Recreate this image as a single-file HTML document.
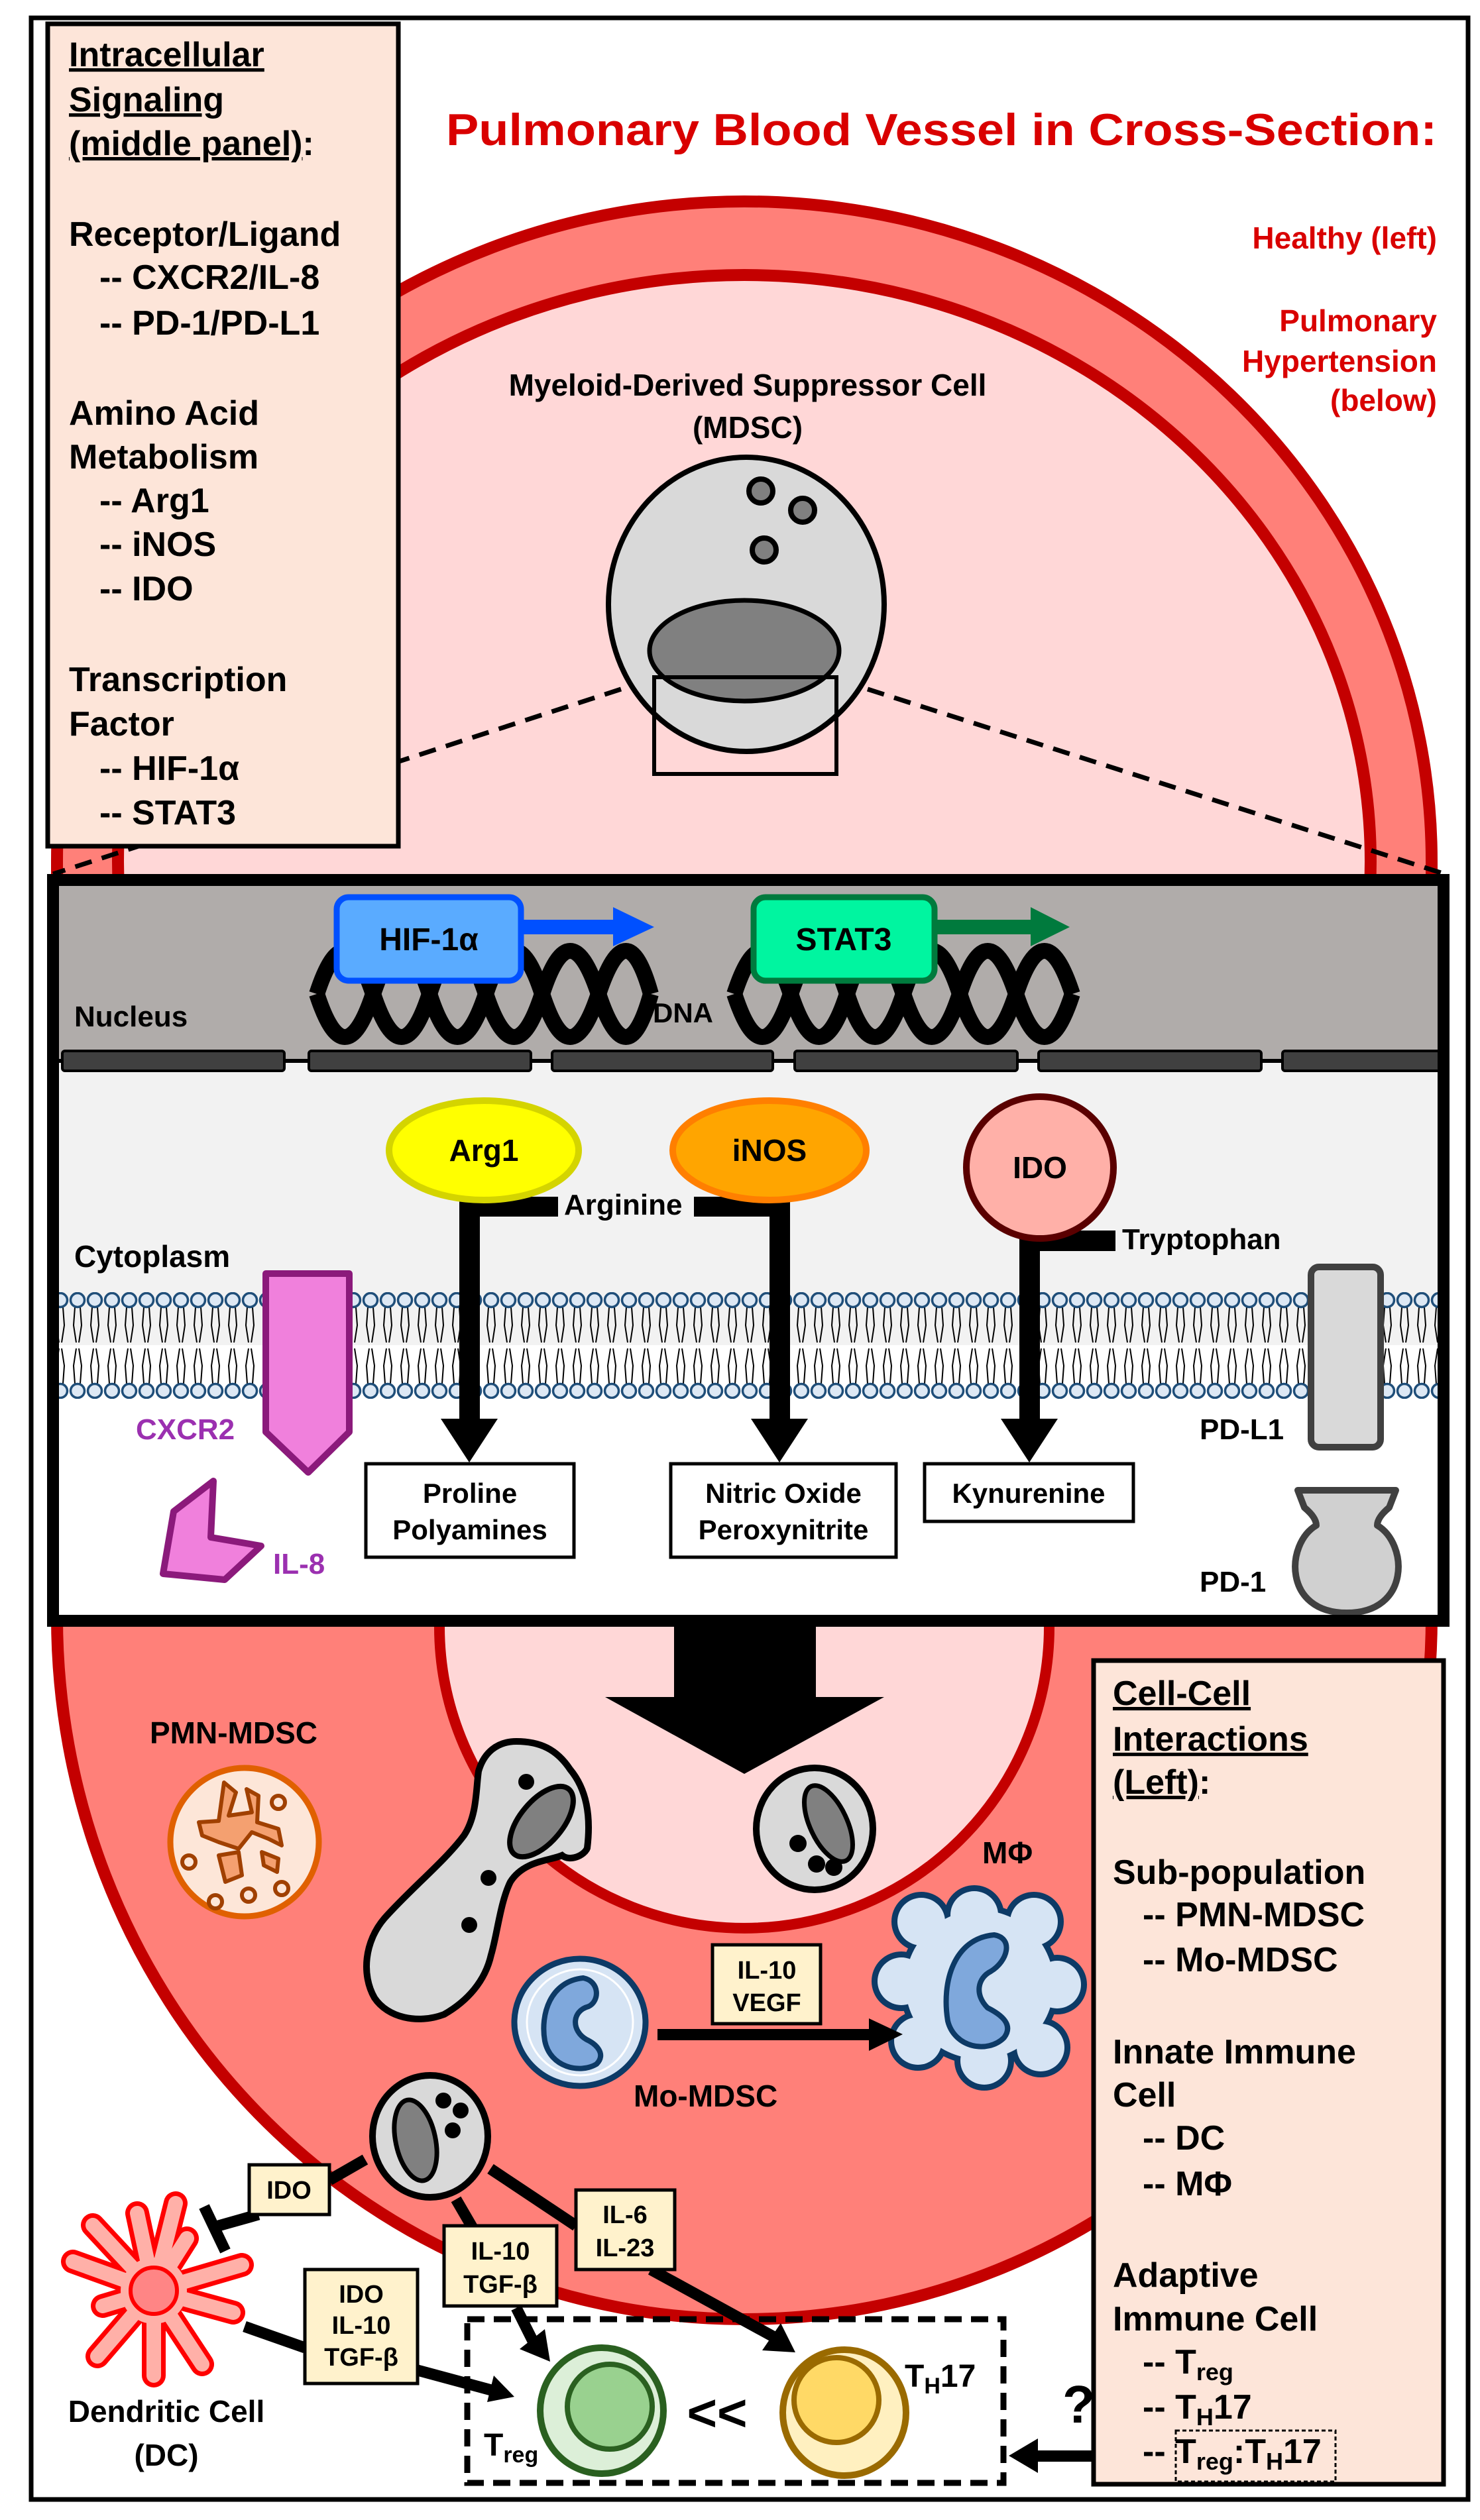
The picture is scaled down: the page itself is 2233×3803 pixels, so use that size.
<!DOCTYPE html>
<html><head><meta charset="utf-8"><style>
html,body{margin:0;padding:0;background:#fff;}
svg{display:block;}
text{font-family:"Liberation Sans",Arial,sans-serif;font-weight:bold;}
</style></head><body>
<svg width="2233" height="3803" viewBox="0 0 2233 3803" xmlns="http://www.w3.org/2000/svg">
<defs>
<pattern id="mem" x="0" y="1950" width="26" height="161" patternUnits="userSpaceOnUse">
<g stroke="#000" stroke-width="2" fill="none">
<polyline points="9,23 7,50 11,76"/><polyline points="17,23 19,50 15,76"/>
<polyline points="9,138 7,111 11,85"/><polyline points="17,138 19,111 15,85"/>
</g>
<circle cx="13" cy="12" r="10.5" fill="#dde8f4" stroke="#1f4e79" stroke-width="3.5"/>
<circle cx="13" cy="149" r="10.5" fill="#dde8f4" stroke="#1f4e79" stroke-width="3.5"/>
</pattern>
</defs>
<rect x="0" y="0" width="2233" height="3803" fill="#fff"/>

<!-- vessel -->
<path d="M86,1300 A1037,996 0 0 1 2160,1300 L2160,2440 A1037,1060 0 0 1 86,2440 Z" fill="#ff8079" stroke="#c40000" stroke-width="18"/>
<ellipse cx="1123" cy="1300" rx="945" ry="885" fill="#ffd7d7" stroke="#c40000" stroke-width="18"/>
<path d="M663,2300 L663,2455 A460,455 0 0 0 1583,2455 L1583,2300 Z" fill="#ffd7d7" stroke="#c40000" stroke-width="16"/>

<!-- title -->
<text x="673" y="219" font-size="68" fill="#d90000" textLength="1495" lengthAdjust="spacingAndGlyphs">Pulmonary Blood Vessel in Cross-Section:</text>
<g font-size="46" fill="#d90000" text-anchor="end">
<text x="2168" y="375">Healthy (left)</text>
<text x="2168" y="500">Pulmonary</text>
<text x="2168" y="561">Hypertension</text>
<text x="2168" y="620">(below)</text>
</g>

<!-- top MDSC -->
<g font-size="46" fill="#000" text-anchor="middle">
<text x="1128" y="597">Myeloid-Derived Suppressor Cell</text>
<text x="1128" y="661">(MDSC)</text>
</g>
<ellipse cx="1126" cy="912" rx="208" ry="222" fill="#d9d9d9" stroke="#000" stroke-width="8"/>
<ellipse cx="1123" cy="982" rx="143" ry="76" fill="#808080" stroke="#000" stroke-width="7"/>
<circle cx="1148" cy="741" r="18" fill="#808080" stroke="#000" stroke-width="8"/>
<circle cx="1211" cy="770" r="18" fill="#808080" stroke="#000" stroke-width="8"/>
<circle cx="1153" cy="830" r="18" fill="#808080" stroke="#000" stroke-width="8"/>
<rect x="987" y="1022" width="275" height="146" fill="none" stroke="#000" stroke-width="6"/>
<g stroke="#000" stroke-width="7" stroke-dasharray="26 16">
<line x1="937" y1="1040" x2="80" y2="1319"/>
<line x1="1309" y1="1040" x2="2180" y2="1319"/>
</g>

<!-- left panel -->
<rect x="72" y="36" width="529" height="1241" fill="#fde5d9" stroke="#000" stroke-width="7"/>
<g font-size="52" fill="#000">
<text x="104" y="100" text-decoration="underline">Intracellular</text>
<text x="104" y="168" text-decoration="underline">Signaling</text>
<text x="104" y="234"><tspan text-decoration="underline">(middle panel)</tspan>:</text>
<text x="104" y="371">Receptor/Ligand</text>
<text x="150" y="436">-- CXCR2/IL-8</text>
<text x="150" y="505">-- PD-1/PD-L1</text>
<text x="104" y="641">Amino Acid</text>
<text x="104" y="707">Metabolism</text>
<text x="150" y="773">-- Arg1</text>
<text x="150" y="839">-- iNOS</text>
<text x="150" y="906">-- IDO</text>
<text x="104" y="1043">Transcription</text>
<text x="104" y="1110">Factor</text>
<text x="150" y="1177">-- HIF-1α</text>
<text x="150" y="1244">-- STAT3</text>
</g>

<!-- middle panel -->
<rect x="80" y="1328" width="2098" height="1118" fill="#f2f2f2"/>
<rect x="80" y="1328" width="2098" height="270" fill="#b0acaa"/>
<rect x="80" y="2030" width="2098" height="416" fill="#fff"/>
<rect x="80" y="1950" width="2098" height="161" fill="url(#mem)"/>
<line x1="80" y1="1601" x2="2178" y2="1601" stroke="#000" stroke-width="6"/>
<g fill="#404040" stroke="#000" stroke-width="4">
<rect x="94" y="1586" width="335" height="30" rx="4"/>
<rect x="466" y="1586" width="335" height="30" rx="4"/>
<rect x="833" y="1586" width="333" height="30" rx="4"/>
<rect x="1199" y="1586" width="336" height="30" rx="4"/>
<rect x="1567" y="1586" width="336" height="30" rx="4"/>
<rect x="1935" y="1586" width="240" height="30" rx="4"/>
</g>
<text x="112" y="1549" font-size="44">Nucleus</text>
<text x="112" y="1912" font-size="46">Cytoplasm</text>
<!-- DNA -->
<g fill="none" stroke="#000" stroke-width="24" stroke-linecap="butt">
<path d="M478,1500 Q520,1370 563,1500 T648,1500 T733,1500 T818,1500 T903,1500 T982,1500"/>
<path d="M478,1500 Q520,1630 563,1500 T648,1500 T733,1500 T818,1500 T903,1500 T982,1500"/>
<path d="M1108,1500 Q1150,1370 1193,1500 T1278,1500 T1363,1500 T1448,1500 T1533,1500 T1618,1500"/>
<path d="M1108,1500 Q1150,1630 1193,1500 T1278,1500 T1363,1500 T1448,1500 T1533,1500 T1618,1500"/>
</g>
<text x="985" y="1543" font-size="42">DNA</text>
<!-- HIF -->
<rect x="785" y="1388" width="140" height="22" fill="#0050ff"/>
<polygon points="925,1369 987,1399 925,1428" fill="#0050ff"/>
<rect x="508" y="1354" width="278" height="126" rx="18" fill="#5aabff" stroke="#0050ff" stroke-width="9"/>
<text x="647" y="1434" font-size="48" text-anchor="middle">HIF-1α</text>
<rect x="1410" y="1388" width="145" height="22" fill="#007a3d"/>
<polygon points="1555,1369 1614,1399 1555,1428" fill="#007a3d"/>
<rect x="1137" y="1354" width="273" height="126" rx="18" fill="#00f5a0" stroke="#007a3d" stroke-width="9"/>
<text x="1273" y="1434" font-size="48" text-anchor="middle">STAT3</text>

<!-- enzymes -->
<rect x="693" y="1810" width="31" height="335" fill="#000"/>
<polygon points="665,2141 751,2141 708,2207" fill="#000"/>
<rect x="708" y="1806" width="134" height="30" fill="#000"/>
<ellipse cx="730" cy="1736" rx="143" ry="75" fill="#ffff00" stroke="#d4d400" stroke-width="10"/>
<text x="730" y="1752" font-size="46" text-anchor="middle">Arg1</text>
<rect x="1161" y="1810" width="31" height="335" fill="#000"/>
<polygon points="1133,2141 1219,2141 1176,2207" fill="#000"/>
<rect x="1047" y="1806" width="140" height="30" fill="#000"/>
<ellipse cx="1161" cy="1736" rx="146" ry="75" fill="#ffa500" stroke="#ff7f00" stroke-width="10"/>
<text x="1161" y="1752" font-size="46" text-anchor="middle">iNOS</text>
<text x="851" y="1833" font-size="44">Arginine</text>
<rect x="1538" y="1865" width="31" height="280" fill="#000"/>
<polygon points="1510,2141 1596,2141 1553,2207" fill="#000"/>
<rect x="1553" y="1857" width="130" height="31" fill="#000"/>
<ellipse cx="1569" cy="1762" rx="111" ry="107" fill="#ffb0a8" stroke="#5a0000" stroke-width="10"/>
<text x="1569" y="1778" font-size="46" text-anchor="middle">IDO</text>
<text x="1693" y="1885" font-size="44">Tryptophan</text>
<g fill="#fff" stroke="#000" stroke-width="5">
<rect x="552" y="2209" width="314" height="141"/>
<rect x="1012" y="2209" width="340" height="141"/>
<rect x="1395" y="2209" width="315" height="87"/>
</g>
<g font-size="42" text-anchor="middle">
<text x="709" y="2268">Proline</text><text x="709" y="2323">Polyamines</text>
<text x="1182" y="2268">Nitric Oxide</text><text x="1182" y="2323">Peroxynitrite</text>
<text x="1552" y="2268">Kynurenine</text>
</g>
<!-- CXCR2 / IL-8 -->
<path d="M401,1922 L527,1922 L527,2161 L465,2222 L401,2161 Z" fill="#f080dc" stroke="#8b1a7b" stroke-width="10" stroke-linejoin="round"/>
<text x="205" y="2172" font-size="44" fill="#9b30b0">CXCR2</text>
<polygon points="322,2235 262,2281 246,2375 339,2384 394,2333 318,2320" fill="#f080dc" stroke="#8b1a7b" stroke-width="10" stroke-linejoin="round"/>
<text x="412" y="2375" font-size="44" fill="#9b30b0">IL-8</text>
<!-- PD-L1 / PD-1 -->
<rect x="1978" y="1912" width="105" height="272" rx="12" fill="#d9d9d9" stroke="#404040" stroke-width="10"/>
<text x="1810" y="2172" font-size="44">PD-L1</text>
<path d="M1958,2249 L2106,2249 L2096,2275 Q2078,2290 2078,2302 C2125,2330 2128,2434 2032,2434 C1936,2434 1939,2330 1986,2302 Q1986,2290 1968,2275 Z" fill="#d0d0d0" stroke="#404040" stroke-width="10" stroke-linejoin="round"/>
<text x="1810" y="2402" font-size="44">PD-1</text>
<rect x="80" y="1328" width="2098" height="1118" fill="none" stroke="#000" stroke-width="18"/>

<!-- big arrow -->
<rect x="1017" y="2455" width="214" height="108" fill="#000"/>
<polygon points="913,2561 1334,2561 1123,2677" fill="#000"/>

<!-- PMN-MDSC -->
<text x="226" y="2631" font-size="46">PMN-MDSC</text>
<circle cx="369" cy="2780" r="112" fill="#fde6d8" stroke="#e06000" stroke-width="9"/>
<g fill="#f4a070" stroke="#a04000" stroke-width="6" stroke-linejoin="round">
<path d="M338,2690 L356,2705 L345,2740 L380,2735 L372,2700 L390,2710 L388,2750 L420,2760 L425,2785 L405,2775 L380,2765 L360,2790 L330,2780 L305,2770 L300,2750 L330,2748 Z"/>
<path d="M330,2800 L360,2795 L365,2830 L340,2840 Z"/>
<path d="M395,2795 L420,2805 L418,2825 L398,2815 Z"/>
</g>
<g fill="none" stroke="#a04000" stroke-width="6">
<circle cx="285" cy="2810" r="10"/><circle cx="420" cy="2720" r="10"/><circle cx="375" cy="2860" r="10"/><circle cx="325" cy="2870" r="10"/><circle cx="425" cy="2850" r="10"/>
</g>

<!-- migrating cell -->
<path d="M779,2628 C815,2628 840,2640 860,2670 C885,2700 892,2740 886,2789 C882,2800 860,2810 848,2800 C830,2808 790,2808 770,2840 C755,2870 750,2920 741,2950 C732,2990 705,3020 670,3040 C630,3055 585,3045 565,3015 C545,2980 550,2930 580,2895 C620,2850 670,2810 700,2770 C720,2740 718,2700 722,2673 C730,2645 750,2628 779,2628 Z" fill="#d9d9d9" stroke="#000" stroke-width="10"/>
<ellipse cx="817" cy="2749" rx="32" ry="64" transform="rotate(40 817 2749)" fill="#808080" stroke="#000" stroke-width="8"/>
<circle cx="794" cy="2689" r="12" fill="#000"/><circle cx="737" cy="2834" r="12" fill="#000"/><circle cx="708" cy="2905" r="12" fill="#000"/>

<!-- lumen cell -->
<ellipse cx="1229" cy="2760" rx="88" ry="92" fill="#d9d9d9" stroke="#000" stroke-width="10"/>
<ellipse cx="1250" cy="2752" rx="28" ry="62" transform="rotate(-25 1250 2752)" fill="#808080" stroke="#000" stroke-width="7"/>
<circle cx="1204" cy="2782" r="13" fill="#000"/><circle cx="1232" cy="2813" r="13" fill="#000"/><circle cx="1258" cy="2818" r="13" fill="#000"/>

<!-- macrophage -->
<text x="1482" y="2812" font-size="46">MΦ</text>
<g fill="none" stroke="#0d3a66" stroke-width="18">
<circle cx="1478" cy="2995" r="112"/>
<circle cx="1470" cy="2890" r="36"/><circle cx="1560" cy="2900" r="36"/><circle cx="1595" cy="2995" r="36"/><circle cx="1570" cy="3090" r="36"/><circle cx="1485" cy="3110" r="36"/><circle cx="1385" cy="3080" r="36"/><circle cx="1360" cy="2990" r="36"/><circle cx="1390" cy="2900" r="36"/>
</g>
<g fill="#d6e4f4">
<circle cx="1478" cy="2995" r="112"/>
<circle cx="1470" cy="2890" r="36"/><circle cx="1560" cy="2900" r="36"/><circle cx="1595" cy="2995" r="36"/><circle cx="1570" cy="3090" r="36"/><circle cx="1485" cy="3110" r="36"/><circle cx="1385" cy="3080" r="36"/><circle cx="1360" cy="2990" r="36"/><circle cx="1390" cy="2900" r="36"/>
</g>
<path d="M1500,2920 C1440,2925 1420,2990 1430,3050 C1440,3090 1490,3100 1515,3075 C1530,3055 1510,3040 1490,3030 C1470,3010 1475,2985 1495,2975 C1520,2960 1530,2925 1500,2920 Z" fill="#7fa8dc" stroke="#0d3a66" stroke-width="8"/>

<!-- Mo-MDSC -->
<ellipse cx="875" cy="3052" rx="99" ry="96" fill="#d6e4f4" stroke="#0d3a66" stroke-width="9"/>
<ellipse cx="875" cy="3052" rx="80" ry="80" fill="none" stroke="#fff" stroke-width="3"/>
<path d="M880,2985 C830,2990 815,3040 822,3080 C830,3120 875,3130 900,3115 C915,3100 900,3085 885,3078 C862,3065 862,3035 888,3028 C905,3020 905,2990 880,2985 Z" fill="#7fa8dc" stroke="#0d3a66" stroke-width="8"/>
<text x="956" y="3179" font-size="46">Mo-MDSC</text>
<rect x="1075" y="2935" width="163" height="119" fill="#fff2cc" stroke="#000" stroke-width="5"/>
<g font-size="38" text-anchor="middle"><text x="1157" y="2986">IL-10</text><text x="1157" y="3035">VEGF</text></g>
<rect x="992" y="3062" width="325" height="17" fill="#000"/>
<polygon points="1311,3046 1362,3070 1311,3095" fill="#000"/>

<!-- small MDSC -->
<g stroke="#000" stroke-width="17" fill="none">
<line x1="551" y1="3259" x2="497" y2="3290"/>
<line x1="390" y1="3342" x2="319" y2="3362"/>
<line x1="308" y1="3330" x2="340" y2="3397"/>
<line x1="688" y1="3319" x2="713" y2="3362"/>
<line x1="740" y1="3273" x2="869" y2="3359"/>
<line x1="779" y1="3483" x2="805" y2="3535"/>
<line x1="982" y1="3425" x2="1170" y2="3528"/>
<line x1="369" y1="3511" x2="460" y2="3543"/>
<line x1="630" y1="3577" x2="745" y2="3608"/>
</g>
<polygon points="784,3545 830,3564 822,3515" fill="#000"/>
<polygon points="1150,3547 1200,3550 1178,3506" fill="#000"/>
<polygon points="735,3625 776,3617 745,3585" fill="#000"/>
<ellipse cx="649" cy="3224" rx="87" ry="92" fill="#d9d9d9" stroke="#000" stroke-width="10"/>
<ellipse cx="627" cy="3230" rx="30" ry="62" transform="rotate(-12 627 3230)" fill="#808080" stroke="#000" stroke-width="7"/>
<circle cx="669" cy="3170" r="12" fill="#000"/><circle cx="695" cy="3185" r="12" fill="#000"/><circle cx="683" cy="3215" r="12" fill="#000"/>
<rect x="376" y="3267" width="121" height="75" fill="#fff2cc" stroke="#000" stroke-width="5"/>
<text x="436" y="3318" font-size="38" text-anchor="middle">IDO</text>
<rect x="670" y="3359" width="170" height="121" fill="#fff2cc" stroke="#000" stroke-width="5"/>
<g font-size="38" text-anchor="middle"><text x="755" y="3410">IL-10</text><text x="755" y="3460">TGF-β</text></g>
<rect x="869" y="3305" width="149" height="120" fill="#fff2cc" stroke="#000" stroke-width="5"/>
<g font-size="38" text-anchor="middle"><text x="943" y="3355">IL-6</text><text x="943" y="3405">IL-23</text></g>
<rect x="460" y="3425" width="170" height="172" fill="#fff2cc" stroke="#000" stroke-width="5"/>
<g font-size="38" text-anchor="middle"><text x="545" y="3475">IDO</text><text x="545" y="3522">IL-10</text><text x="545" y="3570">TGF-β</text></g>

<!-- DC -->
<g stroke="#ff0000" stroke-width="36" stroke-linecap="round">
<line x1="232" y1="3457" x2="265" y2="3325"/><line x1="232" y1="3457" x2="207" y2="3340"/><line x1="232" y1="3457" x2="140" y2="3358"/><line x1="232" y1="3457" x2="110" y2="3413"/><line x1="232" y1="3457" x2="155" y2="3480"/><line x1="232" y1="3457" x2="147" y2="3556"/><line x1="232" y1="3457" x2="232" y2="3585"/><line x1="232" y1="3457" x2="305" y2="3568"/><line x1="232" y1="3457" x2="352" y2="3490"/><line x1="232" y1="3457" x2="365" y2="3418"/><line x1="232" y1="3457" x2="282" y2="3378"/>
</g>
<g stroke="#ffb0a8" stroke-width="22" stroke-linecap="round">
<line x1="232" y1="3457" x2="265" y2="3325"/><line x1="232" y1="3457" x2="207" y2="3340"/><line x1="232" y1="3457" x2="140" y2="3358"/><line x1="232" y1="3457" x2="110" y2="3413"/><line x1="232" y1="3457" x2="155" y2="3480"/><line x1="232" y1="3457" x2="147" y2="3556"/><line x1="232" y1="3457" x2="232" y2="3585"/><line x1="232" y1="3457" x2="305" y2="3568"/><line x1="232" y1="3457" x2="352" y2="3490"/><line x1="232" y1="3457" x2="365" y2="3418"/><line x1="232" y1="3457" x2="282" y2="3378"/>
</g>
<circle cx="232" cy="3457" r="50" fill="#ffb0a8"/>
<circle cx="232" cy="3457" r="35" fill="#ff8585" stroke="#ff0000" stroke-width="6"/>
<g font-size="46" text-anchor="middle"><text x="251" y="3655">Dendritic Cell</text><text x="251" y="3721">(DC)</text></g>

<!-- T cells -->
<rect x="705" y="3500" width="809" height="247" fill="none" stroke="#000" stroke-width="9" stroke-dasharray="26 14"/>
<ellipse cx="908" cy="3638" rx="93" ry="95" fill="#dcefd8" stroke="#2a6020" stroke-width="10"/>
<circle cx="920" cy="3632" r="64" fill="#99d18f" stroke="#2a6020" stroke-width="8"/>
<ellipse cx="1274" cy="3641" rx="93" ry="95" fill="#fff0c0" stroke="#9a6a00" stroke-width="10"/>
<circle cx="1262" cy="3622" r="64" fill="#ffd966" stroke="#9a6a00" stroke-width="8"/>
<text x="730" y="3706" font-size="48">T<tspan font-size="34" dy="10">reg</tspan></text>
<text x="1365" y="3602" font-size="48">T<tspan font-size="34" dy="10">H</tspan><tspan dy="-10">17</tspan></text>
<text x="1082" y="3668" font-size="78" text-anchor="middle">&lt;&lt;</text>
<text x="1603" y="3656" font-size="80">?</text>
<rect x="1560" y="3698" width="145" height="17" fill="#000"/>
<polygon points="1566,3680 1522,3706 1566,3732" fill="#000"/>

<!-- right panel -->
<rect x="1650" y="2506" width="528" height="1243" fill="#fde5d9" stroke="#000" stroke-width="7"/>
<g font-size="52" fill="#000">
<text x="1679" y="2573" text-decoration="underline">Cell-Cell</text>
<text x="1679" y="2642" text-decoration="underline">Interactions</text>
<text x="1679" y="2707"><tspan text-decoration="underline">(Left)</tspan>:</text>
<text x="1679" y="2843">Sub-population</text>
<text x="1724" y="2907">-- PMN-MDSC</text>
<text x="1724" y="2975">-- Mo-MDSC</text>
<text x="1679" y="3114">Innate Immune</text>
<text x="1679" y="3179">Cell</text>
<text x="1724" y="3244">-- DC</text>
<text x="1724" y="3313">-- MΦ</text>
<text x="1679" y="3451">Adaptive</text>
<text x="1679" y="3517">Immune Cell</text>
<text x="1724" y="3582">-- T<tspan font-size="36" dy="10">reg</tspan></text>
<text x="1724" y="3650">-- T<tspan font-size="36" dy="10">H</tspan><tspan dy="-10">17</tspan></text>
<text x="1724" y="3717">-- T<tspan font-size="36" dy="10">reg</tspan><tspan dy="-10">:T</tspan><tspan font-size="36" dy="10">H</tspan><tspan dy="-10">17</tspan></text>
</g>
<rect x="1774" y="3668" width="241" height="77" fill="none" stroke="#000" stroke-width="3" stroke-dasharray="6 4"/>

<!-- frame -->
<rect x="47" y="27" width="2168" height="3745" fill="none" stroke="#000" stroke-width="7"/>
</svg>
</body></html>
